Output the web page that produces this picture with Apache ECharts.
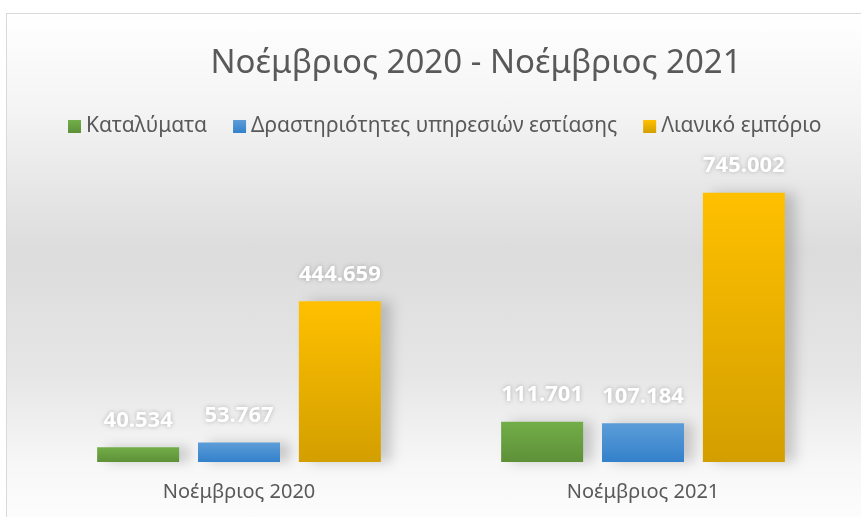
<!DOCTYPE html>
<html>
<head>
<meta charset="utf-8">
<script src="https://cdn.jsdelivr.net/npm/echarts@6/dist/echarts.min.js"></script>
<style>
  html, body { margin: 0; padding: 0; width: 861px; height: 517px; overflow: hidden; background: #fff; }
  .frame {
    position: absolute; left: 6px; top: 13px; width: 880px; height: 530px;
    border: 1px solid #d9d9d9;
    background: linear-gradient(to bottom, #ffffff 0%, #f4f4f4 18%, #dcdcdc 45%, #e6e6e6 68%, #f7f7f7 85%, #ffffff 100%);
  }
  #main { position: absolute; left: 0; top: 0; width: 861px; height: 517px; }
</style>
</head>
<body>
<div class="frame"></div>
<div id="main"></div>
<script>
// δεδομένα
const categories = ['Νοέμβριος 2020', 'Νοέμβριος 2021'];
const seriesNames = ['Καταλύματα', 'Δραστηριότητες υπηρεσιών εστίασης', 'Λιανικό εμπόριο'];
const katalymata = [40534, 111701];
const estiasi = [53767, 107184];
const lianiko = [444659, 745002];

const chart = echarts.init(document.getElementById('main'));

function grad(top, bottom) {
    return new echarts.graphic.LinearGradient(0, 0, 0, 1, [
        { offset: 0, color: top },
        { offset: 1, color: bottom }
    ]);
}

// μορφή αριθμών με τελεία για χιλιάδες
function fmt(p) {
    return String(p.value).replace(/\B(?=(\d{3})+(?!\d))/g, '.');
}

const labelStyle = {
    show: true,
    position: 'top',
    distance: 16,
    color: '#fff',
    fontSize: 22,
    fontWeight: 'bold',
    fontFamily: 'Open Sans',
    textShadowColor: 'rgba(0,0,0,0.25)',
    textShadowBlur: 4,
    formatter: fmt
};

const colors = [
    grad('#72ae48', '#5e9038'),
    grad('#5c9dd8', '#3381cb'),
    grad('#ffc000', '#d39f00')
];
const data = [katalymata, estiasi, lianiko];

const option = {
    animation: false,
    title: {
        text: 'Νοέμβριος 2020 - Νοέμβριος 2021',
        left: 471,
        textAlign: 'center',
        top: 42,
        textStyle: { fontFamily: 'Noto Sans', fontSize: 33, fontWeight: 'normal', color: '#595959' }
    },
    legend: {
        top: 111,
        left: 63,
        itemWidth: 13,
        itemHeight: 13,
        itemGap: 26,
        icon: 'rect',
        textStyle: { fontFamily: 'Noto Sans', fontSize: 21, color: '#595959' },
        data: seriesNames
    },
    grid: { left: 37, right: 16, top: 173, bottom: 55 },
    xAxis: {
        type: 'category',
        data: categories,
        axisLine: { show: false },
        axisTick: { show: false },
        axisLabel: { margin: 20, fontFamily: 'Noto Sans', fontSize: 20, color: '#595959' }
    },
    yAxis: {
        type: 'value',
        min: 0,
        max: 800000,
        show: false,
        splitLine: { show: false }
    },
    series: seriesNames.map((name, i) => ({
        name: name,
        type: 'bar',
        data: data[i],
        barWidth: 82,
        barGap: '23%',
        itemStyle: {
            color: colors[i],
            shadowColor: 'rgba(0,0,0,0.18)',
            shadowBlur: 12,
            shadowOffsetX: 10,
            shadowOffsetY: 0
        },
        label: labelStyle
    }))
};

chart.setOption(option);
</script>
</body>
</html>
